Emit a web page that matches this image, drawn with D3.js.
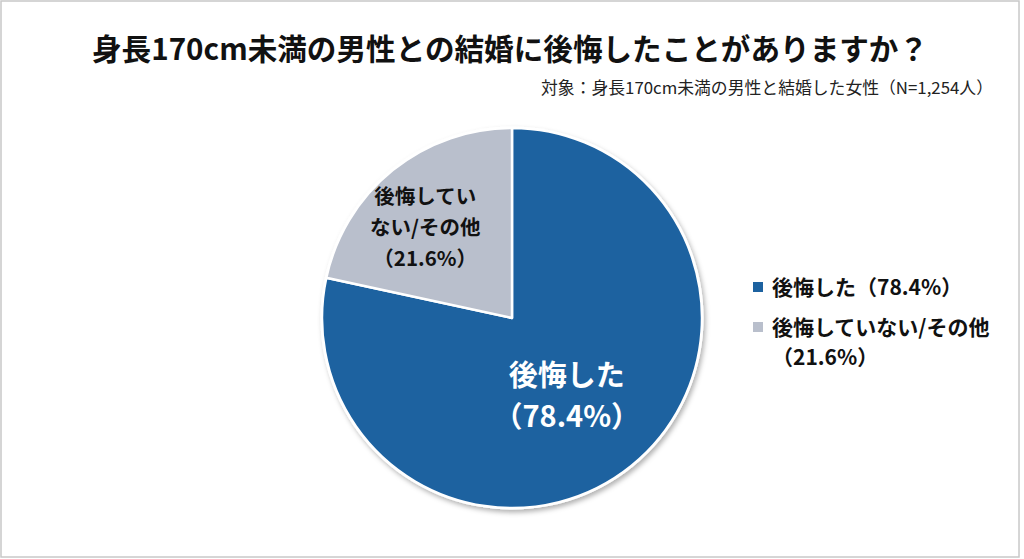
<!DOCTYPE html>
<html>
<head>
<meta charset="utf-8">
<script src="https://cdn.jsdelivr.net/npm/d3@7"></script>
<style>
  body { margin: 0; background: #fff; }
  text { font-family: "Noto Sans CJK JP", "Noto Sans", sans-serif; }
</style>
</head>
<body>
<div id="chart"></div>
<script>
// data
let categories = ['後悔した', '後悔していない/その他'];
let values     = [78.4, 21.6];
let colors     = ['#1d62a0', '#b9bfcc'];
// labels inside the slices (split in lines like the original)
let sliceLines = [
    ['後悔した', '（78.4%）'],
    ['後悔してい', 'ない/その他', '（21.6%）']
];
let legendLines = [
    ['後悔した（78.4%）'],
    ['後悔していない/その他', '（21.6%）']
];
let title    = '身長170cm未満の男性との結婚に後悔したことがありますか？';
let subtitle = '対象：身長170cm未満の男性と結婚した女性（N=1,254人）';

let w = 1024;
let h = 559;
let svg = d3.select('#chart').append('svg').attr('width', w).attr('height', h);

// outer frame
svg.append('rect').attr('x', 1).attr('y', 1).attr('width', w - 6).attr('height', h - 3)
    .attr('fill', '#fff').attr('stroke', '#c8c8c8').attr('stroke-width', 1.5);

svg.append('text').attr('x', 510).attr('y', 60)
    .attr('text-anchor', 'middle').attr('font-size', 30).attr('font-weight', 700)
    .attr('fill', '#111').attr('textLength', 836).attr('lengthAdjust', 'spacingAndGlyphs')
    .text(title);

svg.append('text').attr('x', 993).attr('y', 94)
    .attr('text-anchor', 'end').attr('font-size', 16.5)
    .attr('fill', '#222').attr('textLength', 452).attr('lengthAdjust', 'spacingAndGlyphs')
    .text(subtitle);

// shadow
let defs = svg.append('defs');
let f = defs.append('filter').attr('id', 'shadow').attr('x', '-10%').attr('y', '-10%')
    .attr('width', '120%').attr('height', '120%');
f.append('feDropShadow').attr('dx', 2).attr('dy', 3).attr('stdDeviation', 2.5)
    .attr('flood-color', '#000').attr('flood-opacity', 0.3);

let r  = 190;
let cx = 512, cy = 318;
let g = svg.append('g').attr('transform', 'translate(' + [cx, cy].join(',') + ')');

let pie = d3.pie().sort(null);
let arcs = pie(values);
let arcGen = d3.arc().innerRadius(0).outerRadius(r);

// circle behind for shadow
g.append('circle').attr('r', r + 1.5).attr('fill', '#fff').attr('filter', 'url(#shadow)');

g.selectAll('path.slice').data(arcs).enter().append('path')
    .attr('class', 'slice')
    .attr('d', arcGen)
    .attr('fill', (d, i) => colors[i])
    .attr('stroke', '#fff').attr('stroke-width', 2.5).attr('stroke-linejoin', 'round');

// slice labels
let labelRadius = [100, 116];
let labelNudge  = [[-8, 0], [-14, 0]];
let labelSize   = [29, 20.5];
let labelGap    = [41, 31];
let labelColor  = ['#fff', '#111'];

arcs.forEach((a, i) => {
    let la = d3.arc().innerRadius(labelRadius[i]).outerRadius(labelRadius[i]);
    let c = la.centroid(a);
    let lines = sliceLines[i];
    let x0 = c[0] + labelNudge[i][0];
    let y0 = c[1] + labelNudge[i][1] - (lines.length - 1) * labelGap[i] / 2;
    let t = g.append('text').attr('text-anchor', 'middle')
        .attr('font-size', labelSize[i]).attr('font-weight', 700)
        .attr('fill', labelColor[i]);
    lines.forEach((l, j) => {
        t.append('tspan').attr('x', x0).attr('y', y0 + j * labelGap[i])
            .attr('dy', '0.36em').text(l);
    });
});

// legend
let legend = svg.append('g').attr('transform', 'translate(753,287)');
let legY = [0, 40];
categories.forEach((c, i) => {
    let lg = legend.append('g').attr('transform', 'translate(0,' + legY[i] + ')');
    lg.append('rect').attr('x', 0).attr('y', -5).attr('width', 10).attr('height', 10)
        .attr('fill', colors[i]);
    let t = lg.append('text').attr('font-size', 21).attr('font-weight', 700).attr('fill', '#111');
    legendLines[i].forEach((l, j) => {
        t.append('tspan').attr('x', 19).attr('y', j * 30).attr('dy', '0.36em').text(l);
    });
});
</script>
</body>
</html>
